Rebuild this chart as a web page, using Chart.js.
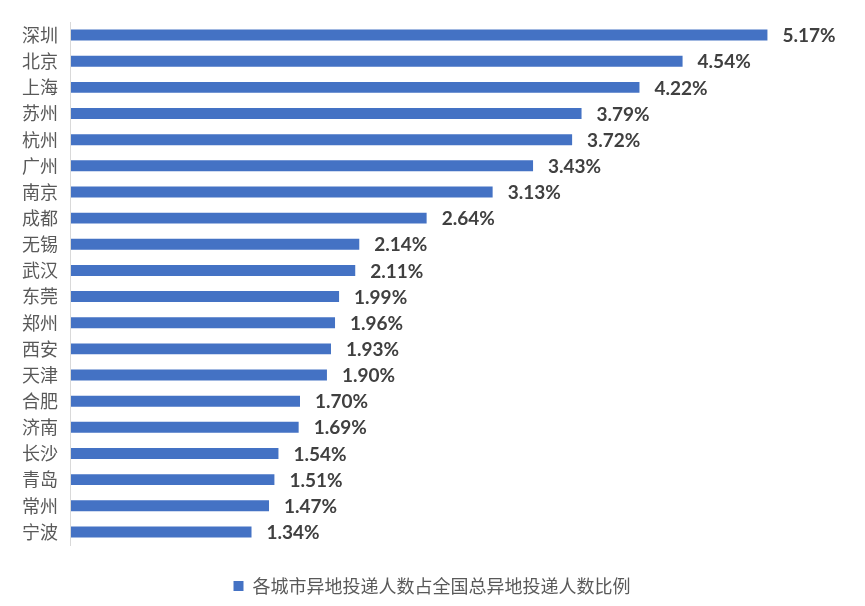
<!DOCTYPE html>
<html>
<head>
<meta charset="utf-8">
<script src="https://cdn.jsdelivr.net/npm/chart.js@4"></script>
<style>
  body { margin: 0; background: #fff; }
  #wrap { width: 865px; height: 606px; }
</style>
</head>
<body>
<div id="wrap"><canvas id="Chart"></canvas></div>
<script>
// data
const cities = ["深圳","北京","上海","苏州","杭州","广州","南京","成都","无锡","武汉","东莞","郑州","西安","天津","合肥","济南","长沙","青岛","常州","宁波"];
const shares = [5.17,4.54,4.22,3.79,3.72,3.43,3.13,2.64,2.14,2.11,1.99,1.96,1.93,1.90,1.70,1.69,1.54,1.51,1.47,1.34];
const seriesName = "各城市异地投递人数占全国总异地投递人数比例";

// value labels after bar ends
const valueLabels = {
    id: "valueLabels",
    afterDatasetsDraw(chart) {
        const ctx = chart.ctx;
        const meta = chart.getDatasetMeta(0);
        ctx.save();
        ctx.font = "bold 19px Lato, 'Open Sans', sans-serif";
        ctx.fillStyle = "#404040";
        ctx.textAlign = "left";
        ctx.textBaseline = "middle";
        meta.data.forEach((bar, i) => {
            ctx.fillText(shares[i].toFixed(2) + "%", bar.x + 15, bar.y + 1);
        });
        ctx.restore();
    }
};

const ctx = document.getElementById("Chart");
new Chart(ctx, {
    type: "bar",
    data: {
        labels: cities,
        datasets: [{
            label: seriesName,
            data: shares,
            backgroundColor: "#4472C4",
            borderWidth: 0,
            barPercentage: 0.84,
            categoryPercentage: 0.5
        }]
    },
    options: {
        indexAxis: "y",
        responsive: true,
        maintainAspectRatio: false,
        animation: false,
        layout: { padding: { top: 15, right: 10, left: 9, bottom: 1 } },
        scales: {
            x: {
                min: 0,
                max: 5.82,
                display: false
            },
            y: {
                border: { display: true, color: "#d9d9d9", width: 1 },
                grid: { display: false, drawTicks: false },
                ticks: {
                    color: "#595959",
                    font: { size: 18, lineHeight: 1, family: "'Noto Sans CJK SC', sans-serif" },
                    padding: 13
                }
            }
        },
        plugins: {
            legend: {
                position: "bottom",
                labels: {
                    boxWidth: 10,
                    boxHeight: 10,
                    color: "#595959",
                    font: { size: 18, family: "'Noto Sans CJK SC', sans-serif" },
                    padding: 32
                }
            },
            tooltip: { enabled: false }
        }
    },
    plugins: [valueLabels]
});
</script>
</body>
</html>
